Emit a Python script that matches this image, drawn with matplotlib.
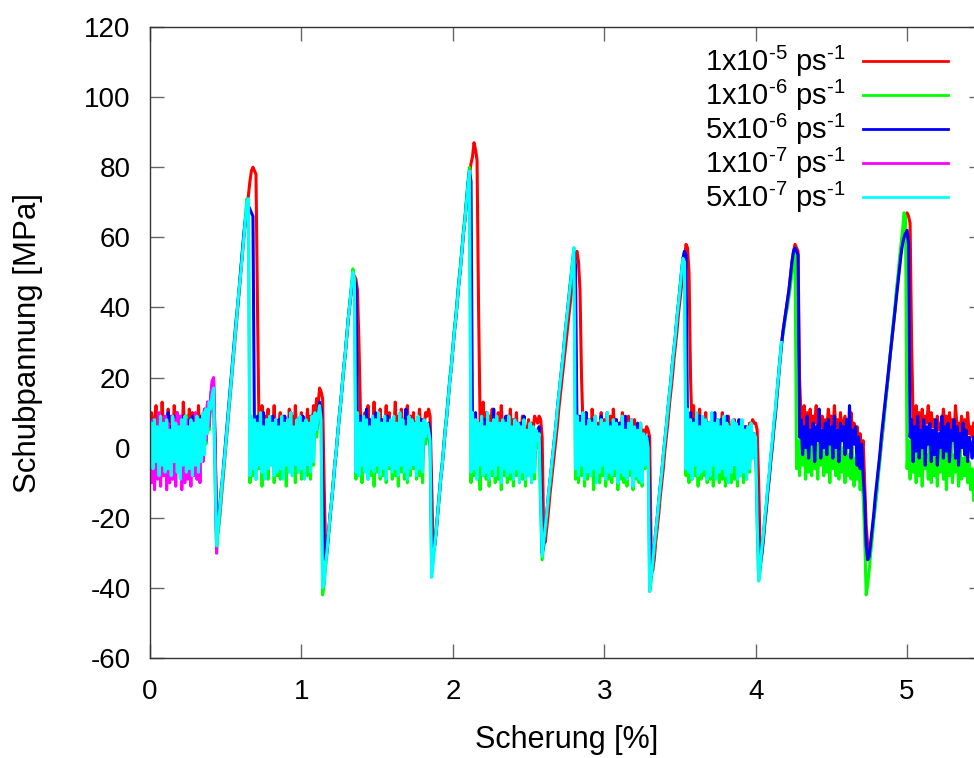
import matplotlib
matplotlib.use('Agg')
import matplotlib.pyplot as plt
import numpy as np

plt.rcParams['font.family'] = ['Liberation Sans', 'DejaVu Sans']
plt.rcParams['mathtext.fontset'] = 'custom'
plt.rcParams['mathtext.rm'] = 'Liberation Sans'
plt.rcParams['axes.unicode_minus'] = False

# strain sampling step [%] shared by all runs
STEP = 0.01

# stress [MPa], one value per strain step
red_y = [
    6, 10, 2, 8, 12, 3, 9, 1, 13, 4,
    7, 0, 11, 5, 9, 2, 12, 6, 10, 4,
    8, 1, 13, 3, 9, 5, 11, 2, 10, 6,
    9, 3, 12, 4, 8, 6, 11, 7, 13, 9,
    12, 14, 13, 0, -20,
    -24, -20, -15, -10, -5, 0, 5, 10, 15, 20, 25, 30, 35, 40, 45, 50, 55, 60, 64, 68,
    72, 76, 79, 80, 79, 78, 40,
    6, 1, 12, 0, 9, 4, 11, -2, 8, 3,
    12, 1, 7, 5, 10, -1, 9, 3, 8, 2,
    11, 4, 9, 0, 12, 3, 7, 5, 10, 1,
    8, 4, 11, 2, 9, 6, 12, 8, 14,
    12, 17, 16, 14, -10, -30, -28, -24, -19, -15, -10, -5, -1, 4, 9,
    13, 18, 23, 27, 32, 37, 41, 45, 48, 49, 48, 45, 30, 10,
    6, 1, 10, 3, 12, 0, 8, 4, 13, 2,
    9, -1, 11, 3, 8, 5, 12, 1, 10, 2,
    7, 4, 13, 2, 9, 0, 11, 5, 8, 3,
    12, 1, 9, 4, 10, 2, 7, 5, 11, 3,
    8, 6, 10, 9,
    11, 9, -10, -28, -28, -24, -19, -14, -9, -5, 0, 5, 9, 14, 19, 23, 28,
    33, 37, 42, 47, 51, 56, 61, 65, 70, 75, 78, 81, 83, 87, 85, 82, 40,
    8, 2, 13, 4, 10, 1, 9, 5, 11, 0,
    8, 3, 10, 2, 12, 4, 7, 1, 9, 5,
    11, 2, 8, 4, 10, 0, 7, 3, 9, 2,
    6, 4, 8, 1, 7, 5, 9, 8, 7,
    9, 8, 3, -25, -27, -23, -19, -14, -10, -6, -2, 2, 6, 11, 15,
    19, 23, 27, 31, 35, 39, 43, 47, 51, 55, 56, 53, 45, 20,
    6, 1, 10, 3, 8, 0, 11, 4, 9, 2,
    7, 5, 10, 1, 8, 3, 6, 0, 9, 2,
    11, 4, 8, 1, 7, 3, 10, 2, 6, 4,
    9, 0, 7, 3, 8, 1, 6, 4, 7, 2,
    5, 4, 6,
    5, 3, -30, -35, -32, -27, -23, -19, -14, -10, -6, -1, 3, 7, 12,
    16, 20, 25, 29, 33, 38, 42, 46, 51, 54, 58, 57, 50, 20,
    5, 12, 2, 9, 4, 11, 0, 8, 3, 10,
    1, 7, 4, 9, 2, 6, 3, 8, 1, 5,
    10, 3, 7, 0, 9, 4, 6, 2, 8, 1,
    7, 3, 6, 2, 5, 4, 6, 3, 7, 6,
    8, 7,
    7, 5, -10, -30, -31, -27, -22, -18, -13, -9, -4, 0, 5, 9, 14,
    19, 24, 29, 33, 36, 39, 42, 45, 49, 53, 56, 58, 57, 56, 20,
    8, 4, 12, 6, 10, 3, 11, 5, 9, 7,
    12, 4, 10, 6, 9, 3, 8, 5, 11, 7,
    9, 4, 12, 6, 8, 3, 10, 5, 7, 9,
    6, 8, 4, 10, 5, 7, 3, 6, 1, 4,
    -2, 2,
    -10, -22, -28, -31, -28, -24, -20, -16, -12, -7, -3, 1, 5, 10, 14, 18,
    22, 27, 31, 35, 39, 44, 48, 52, 56, 60, 64, 66, 67, 66, 64, 30,
    8, 4, 12, 6, 10, 3, 11, 5, 9, 7,
    12, 4, 10, 6, 8, 3, 9, 5, 7, 4,
    11, 6, 9, 2, 10, 5, 8, 3, 12, 6,
    7, 4, 9, 5, 8, 2, 10, 4, 6, 3,
    7,
]

green_y = [
    3, -7, 5, -9, 6, -4, 8, -6, 4, -8,
    7, -5, 9, -7, 3, -9, 6, -5, 8, -6,
    5, -8, 7, -4, 9, -7, 6, -6, 8, -5,
    4, -9, 7, -5, 8, -3, 9, 1, 11, 5,
    12, 16, 15, -10, -30,
    -24, -19, -14, -9, -4, 1, 6, 11, 16, 21, 26, 31, 36, 41, 46, 51, 56, 61, 66, 71,
    70,
    -10, 6, -8, 5, -9, 8, -6, 7, -11, 5,
    -7, 8, -9, 6, -5, 7, -10, 5, -8, 6,
    -9, 7, -6, 5, -11, 8, -7, 6, -8, 4,
    -10, 6, -7, 8, -9, 5, -6, 7, -8, 5,
    -9, 6, -5, 7, 3,
    8, 11, 6, -42, -39, -34, -30, -25, -20, -15, -11, -6, -1, 4, 8,
    13, 18, 22, 27, 32, 37, 42, 46, 51, 47,
    -9, 7, -8, 5, -10, 8, -6, 6, -9, 7,
    -8, 5, -11, 6, -7, 8, -9, 5, -8, 6,
    -10, 7, -6, 4, -9, 6, -8, 5, -11, 7,
    -7, 6, -9, 5, -10, 6, -8, 7, -6, 5,
    -9, 6, -8, 4, -10, 5, 1, 4,
    4, 0, -36, -32, -27, -23, -18, -13, -8, -4, 1, 6, 10, 15,
    20, 24, 29, 34, 38, 43, 48, 52, 57, 62, 66, 71, 76, 80,
    -10, 7, -8, 6, -9, 5, -12, 7, -8, 6,
    -9, 5, -11, 6, -8, 7, -10, 4, -9, 6,
    -12, 5, -8, 6, -10, 7, -9, 4, -11, 5,
    -8, 6, -10, 4, -9, 5, -11, 3, -8, 5,
    -10, 4, -9, 3, 0,
    2, -18, -32, -28, -24, -19, -15, -11, -7, -2, 2, 6,
    10, 15, 19, 23, 27, 32, 36, 40, 45, 49, 53, 57,
    -9, 7, -10, 6, -8, 8, -11, 5, -9, 6,
    -8, 7, -12, 5, -9, 6, -10, 4, -8, 5,
    -11, 7, -9, 6, -10, 5, -8, 6, -12, 4,
    -9, 6, -10, 5, -11, 4, -8, 6, -12, 3,
    -9, 5, -10, 4, -11, 2, -6, 1,
    -2, -41, -38, -33, -29, -25, -20, -16, -11, -7, -3, 2, 6,
    10, 15, 19, 24, 28, 32, 37, 41, 46, 50, 54, 56,
    -8, 8, -10, 6, -9, 7, -8, 5, -11, 6,
    -9, 7, -8, 4, -10, 5, -9, 6, -11, 4,
    -8, 6, -10, 5, -9, 7, -11, 4, -8, 5,
    -10, 6, -9, 4, -11, 5, -8, 3, -10, 4,
    -9, 3, -7, 4, -3, 2,
    1, -22, -38, -35, -30, -26, -21, -17, -12, -8, -3, 1, 6, 10,
    15, 20, 25, 30, 32, 35, 38, 40, 43, 46, 50, 54, 57,
    -6, 2, -8, 3, -5, 1, -9, 4, -7, 0,
    -8, 3, -6, 1, -9, 2, -5, 4, -8, 0,
    -7, 3, -10, 1, -6, 2, -8, -1, -9, 2,
    -7, 0, -10, 1, -8, -2, -9, 0, -11, -3,
    -9, -4, -12, -6, -14,
    -25, -42, -39, -35, -30, -26, -21, -17, -13, -8, -4, 1, 5, 9,
    14, 18, 23, 27, 32, 36, 40, 45, 49, 54, 58, 62, 67, 66,
    -6, 2, -9, 3, -7, -1, -10, 2, -8, 0,
    -11, 3, -6, -2, -9, 1, -10, 3, -8, -3,
    -11, 0, -7, 2, -9, -1, -12, 1, -8, 2,
    -10, -2, -7, 1, -11, 0, -9, -3, -8, 1,
    -10, -4, -12, -6, -15,
]

blue_y = [
    5, -4, 8, -3, 6, -5, 9, -2, 7, -4,
    8, -3, 10, -5, 6, -2, 9, -4, 8, -3,
    7, -5, 9, -2, 6, -4, 8, -3, 9, -1,
    7, -4, 8, -2, 9, 0, 10, 3, 12, 8,
    14, 18, 19, 2, -26,
    -22, -17, -12, -8, -3, 2, 7, 12, 17, 22, 27, 32, 37, 41, 46, 51, 56, 61, 65, 68,
    69, 68, 67, 66,
    4, -3, 9, -2, 7, -4, 10, -3, 6, -5,
    8, -2, 9, -4, 7, -3, 8, -5, 6, -2,
    9, -3, 7, -4, 10, -2, 6, -5, 8, -3,
    7, -4, 9, -2, 8, -5, 6, -3, 9, 2,
    8, 5,
    10, 13, 11, -10, -30, -32, -29, -24, -19, -15, -10, -5, -1,
    4, 9, 13, 18, 23, 27, 32, 37, 41, 45, 49, 48, 46,
    5, -3, 9, -4, 7, -2, 11, -5, 8, -3,
    6, -4, 10, -2, 7, -5, 8, -3, 6, -4,
    9, -2, 7, -3, 8, -5, 6, -4, 9, -2,
    7, -3, 11, -4, 6, -2, 8, -5, 7, -3,
    6, -4, 8, -2, 5, 3, 6,
    7, 4, -25, -30, -28, -24, -19, -14, -9, -5, 0, 5, 9, 14, 19,
    23, 28, 33, 37, 42, 47, 51, 56, 61, 65, 70, 75, 79, 76,
    5, -3, 10, -4, 7, -2, 9, -5, 8, -3,
    7, -4, 6, -2, 11, -5, 7, -3, 5, -4,
    8, -2, 9, -5, 7, -3, 6, -4, 8, -2,
    6, -5, 7, -3, 9, -4, 5, -2, 6, -5,
    4, -3, 5, 2,
    6, -5, -30, -28, -23, -19, -14, -10, -6, -2, 2, 6, 11,
    15, 19, 23, 27, 32, 36, 40, 44, 48, 52, 56, 52,
    5, -4, 9, -3, 7, -5, 10, -2, 6, -4,
    8, -3, 7, -5, 6, -2, 9, -4, 5, -3,
    10, -5, 7, -2, 6, -4, 8, -3, 7, -5,
    6, -2, 9, -4, 5, -3, 8, -5, 6, -4,
    7, -3, 5, -6, 4, 0, 3,
    3, -20, -37, -33, -28, -24, -20, -15, -11, -7, -2, 2, 6,
    11, 15, 19, 24, 28, 32, 37, 41, 45, 50, 54, 56, 55,
    5, -3, 10, -4, 8, -2, 7, -5, 9, -3,
    6, -4, 8, -2, 7, -5, 6, -3, 10, -4,
    7, -2, 8, -5, 6, -3, 9, -4, 5, -2,
    7, -5, 6, -3, 8, -4, 5, -2, 6, -5,
    4, -3, 5, 0, 4,
    3, -15, -33, -34, -30, -26, -21, -17, -12, -8, -3, 1, 6, 10, 15,
    20, 25, 29, 33, 36, 39, 42, 45, 49, 53, 56, 57, 56, 55,
    3, 8, -2, 6, 0, 9, -3, 5, 1, 7,
    -4, 6, 2, 11, -3, 5, 0, 7, -2, 8,
    1, 6, -3, 9, 0, 5, -4, 7, 2, 6,
    -2, 8, 0, 12, -3, 5, 1, 6, -5, 3,
    -6, 1, -8,
    -15, -28, -32, -31, -27, -23, -19, -14, -10, -6, -2, 3, 7, 11, 15,
    19, 23, 27, 31, 35, 39, 43, 47, 51, 55, 58, 60, 61, 62, 58,
    3, 8, -4, 6, -1, 9, -3, 5, 0, 8,
    -5, 6, 1, 7, -4, 5, -2, 8, -5, 4,
    0, 9, -3, 6, -1, 7, -4, 5, 2, 8,
    -3, 6, -5, 4, 0, 7, -2, 5, -4, 3,
    1, -3, 3,
]

magenta_y = [
    2, -10, 8, -12, 6, -9, 10, -11, 4, -8,
    9, -12, 7, -10, 5, -9, 8, -11, 10, -6,
    9, -12, 6, -10, 8, -9, 5, -11, 7, -8,
    10, -9, 6, -10, 8, -4, 11, 2, 13, 6,
    14, 19, 20, 0, -30,
]

cyan_y = [
    0, 7, -6, 8, -4, 6, -8, 9, -5, 7,
    -7, 8, -6, 5, -8, 9, -4, 7, -7, 6,
    -9, 8, -5, 9, -7, 6, -6, 8, -8, 7,
    -5, 9, -7, 8, -4, 10, -2, 11, 4, 13,
    11, 15, 17, -8, -28,
    -23, -18, -13, -8, -4, 1, 6, 11, 16, 21, 26, 31, 36, 41, 46, 50, 55, 60, 65, 70,
    71,
    -8, 9, -6, 8, -9, 7, -5, 10, -7, 6,
    -9, 8, -6, 9, -5, 7, -8, 8, -7, 6,
    -6, 9, -9, 7, -5, 8, -7, 10, -8, 6,
    -5, 8, -7, 9, -6, 7, -9, 8, -5, 7,
    -7, 9, -4, 10, 5,
    9, 12, 8, -40, -38, -33, -29, -24, -19, -15, -10, -5, -1,
    4, 9, 13, 18, 23, 27, 32, 37, 41, 46, 50, 48,
    -7, 10, -8, 7, -5, 9, -7, 8, -9, 6,
    -6, 9, -7, 8, -5, 10, -8, 7, -6, 9,
    -9, 7, -5, 8, -7, 9, -6, 7, -8, 10,
    -5, 8, -7, 6, -9, 9, -6, 8, -5, 7,
    -8, 9, -6, 7, -7, 8, 3, 7,
    5, 2, -37, -33, -28, -24, -19, -14, -9, -5, 0, 5, 9, 14,
    19, 23, 28, 33, 37, 42, 47, 51, 56, 61, 65, 70, 75, 79,
    -7, 10, -6, 8, -9, 7, -5, 9, -8, 6,
    -7, 10, -9, 7, -6, 8, -8, 9, -5, 7,
    -10, 8, -6, 7, -8, 9, -7, 6, -9, 8,
    -6, 7, -10, 6, -7, 8, -9, 5, -8, 7,
    -10, 6, -7, 5, 2,
    4, -15, -31, -27, -23, -19, -14, -10, -6, -2, 2, 6,
    11, 15, 19, 23, 27, 32, 36, 40, 44, 48, 53, 57,
    -6, 9, -8, 7, -5, 10, -9, 6, -7, 8,
    -8, 7, -6, 9, -10, 6, -7, 8, -5, 7,
    -9, 10, -7, 6, -8, 8, -6, 7, -10, 6,
    -7, 9, -8, 5, -9, 7, -6, 8, -11, 6,
    -8, 5, -9, 7, -10, 4, -5, 3,
    0, -41, -37, -33, -28, -24, -20, -15, -11, -7, -2, 2, 6,
    11, 15, 19, 24, 28, 32, 37, 41, 45, 50, 54, 53,
    -6, 11, -7, 8, -9, 7, -5, 10, -8, 6,
    -7, 9, -6, 8, -9, 7, -8, 10, -5, 7,
    -9, 8, -7, 6, -6, 9, -8, 7, -10, 6,
    -7, 8, -5, 7, -9, 6, -8, 8, -7, 5,
    -9, 6, -6, 7, -3, 4,
    3, -20, -38, -34, -29, -25, -20, -16, -11,
    -7, -2, 2, 7, 11, 16, 20, 25, 30,
]

labels = [r'1x10$^{\text{-5}}$ ps$^{\text{-1}}$',
          r'1x10$^{\text{-6}}$ ps$^{\text{-1}}$',
          r'5x10$^{\text{-6}}$ ps$^{\text{-1}}$',
          r'1x10$^{\text{-7}}$ ps$^{\text{-1}}$',
          r'5x10$^{\text{-7}}$ ps$^{\text{-1}}$']
colors = ['#ff0000', '#00ff00', '#0000ff', '#ff00ff', '#00ffff']
series = [red_y, green_y, blue_y, magenta_y, cyan_y]

fig = plt.figure(figsize=(9.74, 7.58), dpi=100)
ax = fig.add_axes([0.154, 0.1319, 0.855, 0.8325])

for y, c, lab in zip(series, colors, labels):
    strain = STEP * np.arange(len(y))
    ax.plot(strain, y, color=c, lw=2.2, label=lab)

ax.set_xlim(0, 5.5)
ax.set_ylim(-60, 120)
ax.set_xticks([0, 1, 2, 3, 4, 5])
ax.set_yticks(np.arange(-60, 121, 20))
ax.tick_params(direction='in', length=10, width=1, color='#666666',
               top=True, right=True, labelsize=20)
ax.tick_params(axis='x', pad=15)
ax.tick_params(axis='y', pad=14)
for s in ax.spines.values():
    s.set_color('#333333')
    s.set_linewidth(1)

ax.set_xlabel('Scherung [%]', fontsize=22)
ax.set_ylabel('Schubpannung [MPa]', fontsize=22.5)
ax.xaxis.set_label_coords(0.5, -0.106)
ax.yaxis.set_label_coords(-0.128, 0.5)

leg = ax.legend(loc='upper right', bbox_to_anchor=(948 / 974, 1 - 44 / 758),
                bbox_transform=fig.transFigure, frameon=False, markerfirst=False,
                handlelength=2.9, handletextpad=0.6, labelspacing=-0.04,
                borderpad=0, borderaxespad=0, fontsize=21)
for line in leg.get_lines():
    line.set_linewidth(2)

fig.savefig('out.png', dpi=100)
